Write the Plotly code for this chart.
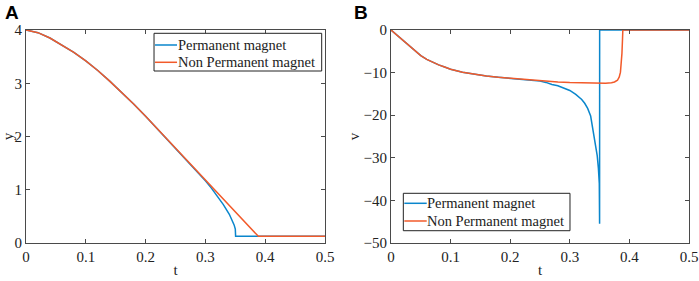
import plotly.graph_objects as go

# ---------------- data ----------------
# Panel A: position y(t)
t_y_np = [0, 0.02, 0.04, 0.06, 0.08, 0.10, 0.12, 0.14, 0.16, 0.18, 0.20, 0.22,
          0.24, 0.26, 0.28, 0.30, 0.32, 0.34, 0.36, 0.3885, 0.5]
y_np = [4.0, 3.95, 3.85, 3.72, 3.58, 3.42, 3.24, 3.04, 2.83, 2.61, 2.38, 2.14,
        1.90, 1.66, 1.42, 1.18, 0.93, 0.69, 0.45, 0.125, 0.125]

t_y_pm = [0, 0.02, 0.04, 0.06, 0.08, 0.10, 0.12, 0.14, 0.16, 0.18, 0.20, 0.22,
          0.24, 0.26, 0.28, 0.29, 0.30, 0.31, 0.32, 0.33, 0.34, 0.345, 0.348,
          0.35, 0.3505, 0.5]
y_pm = [4.0, 3.95, 3.85, 3.72, 3.58, 3.42, 3.24, 3.04, 2.83, 2.61, 2.38, 2.14,
        1.90, 1.66, 1.42, 1.30, 1.17, 1.03, 0.88, 0.72, 0.54, 0.43, 0.34,
        0.26, 0.125, 0.125]

# Panel B: velocity v(t)
t_v_np = [0, 0.01, 0.02, 0.03, 0.04, 0.05, 0.06, 0.07, 0.08, 0.09, 0.10, 0.12,
          0.14, 0.16, 0.18, 0.20, 0.22, 0.24, 0.26, 0.28, 0.30, 0.32, 0.34,
          0.36, 0.37, 0.375, 0.38, 0.383, 0.385, 0.3865, 0.3875, 0.3885,
          0.389, 0.5]
v_np = [0, -1.2, -2.4, -3.6, -4.9, -6.0, -6.9, -7.6, -8.2, -8.7, -9.2, -9.9,
        -10.4, -10.8, -11.1, -11.35, -11.6, -11.8, -12.0, -12.2, -12.35, -12.45,
        -12.5, -12.5, -12.4, -12.2, -11.8, -11.0, -9.9, -8.0, -5.5, -2.0,
        0, 0]

t_v_pm = [0, 0.01, 0.02, 0.03, 0.04, 0.05, 0.06, 0.07, 0.08, 0.09, 0.10, 0.12,
          0.14, 0.16, 0.18, 0.20, 0.22, 0.24, 0.25, 0.26, 0.27, 0.28, 0.29,
          0.30, 0.31, 0.32, 0.325, 0.33, 0.335, 0.34, 0.343, 0.346, 0.348,
          0.3495, 0.35, 0.3501, 0.5]
v_pm = [0, -1.2, -2.4, -3.6, -4.9, -6.0, -6.9, -7.6, -8.2, -8.7, -9.2, -9.9,
        -10.4, -10.8, -11.1, -11.35, -11.6, -11.85, -12.0, -12.3, -12.8, -13.1,
        -13.6, -14.2, -15.1, -16.3, -17.2, -18.4, -20.2, -24.0, -26.5, -29.5,
        -32.5, -36.0, -45.5, 0, 0]

x_ticks = [0, 0.1, 0.2, 0.3, 0.4, 0.5]
x_ticklabels = ["0", "0.1", "0.2", "0.3", "0.4", "0.5"]
yA_ticks = [0, 1, 2, 3, 4]
yB_ticks = [-50, -40, -30, -20, -10, 0]

name_pm = "Permanent magnet"
name_np = "Non Permanent magnet"
c_pm = "#0A86CC"
c_np = "#F25A2A"

# ---------------- figure ----------------
fig = go.Figure()
lw = 1.5
fig.add_trace(go.Scatter(x=t_y_pm, y=y_pm, mode="lines", name=name_pm,
                         line=dict(color=c_pm, width=lw), xaxis="x", yaxis="y",
                         showlegend=False))
fig.add_trace(go.Scatter(x=t_y_np, y=y_np, mode="lines", name=name_np,
                         line=dict(color=c_np, width=lw), xaxis="x", yaxis="y",
                         showlegend=False))
fig.add_trace(go.Scatter(x=t_v_pm, y=v_pm, mode="lines", name=name_pm,
                         line=dict(color=c_pm, width=lw), xaxis="x2", yaxis="y2",
                         showlegend=False))
fig.add_trace(go.Scatter(x=t_v_np, y=v_np, mode="lines", name=name_np,
                         line=dict(color=c_np, width=lw), xaxis="x2", yaxis="y2",
                         showlegend=False))

serif = "Liberation Serif"
axcol = "#4a4a4a"
txtcol = "#222"
common_axis = dict(showline=True, linecolor=axcol, linewidth=1, mirror="ticks",
                   ticks="inside", ticklen=4, tickcolor=axcol, showgrid=False,
                   zeroline=False, automargin=False,
                   tickfont=dict(family=serif, size=15, color=txtcol))
title_font = dict(family=serif, size=15, color=txtcol)

# ---- manual legends (boxes, sample lines, labels) in paper coordinates ----
shapes = []
annotations = []


def add_legend(x0, x1, y0, y1, lx0, lx1, rows, tx):
    shapes.append(dict(type="rect", xref="paper", yref="paper", x0=x0, x1=x1,
                       y0=y0, y1=y1, line=dict(color=txtcol, width=1),
                       fillcolor="white", layer="above"))
    for (ry, col, name) in rows:
        shapes.append(dict(type="line", xref="paper", yref="paper", x0=lx0,
                           x1=lx1, y0=ry, y1=ry, line=dict(color=col, width=lw),
                           layer="above"))
        annotations.append(dict(text=name, xref="paper", yref="paper", x=tx,
                                y=ry, xanchor="left", yanchor="middle",
                                showarrow=False, borderpad=0,
                                font=dict(family=serif, size=14.5, color=txtcol)))


add_legend(0.1931, 0.4460, 0.8075, 0.9845, 0.1946, 0.2278,
           [(0.9296, c_pm, name_pm), (0.8484, c_np, name_np)], 0.2270)
add_legend(0.5691, 0.8205, 0.0577, 0.2333, 0.5706, 0.6044,
           [(0.1864, c_pm, name_pm), (0.1033, c_np, name_np)], 0.6036)

annotations += [
    dict(text="<b>A</b>", xref="paper", yref="paper", x=-0.034, y=1.141,
         xanchor="left", yanchor="top", showarrow=False,
         font=dict(family="Liberation Sans", size=19, color="black")),
    dict(text="<b>B</b>", xref="paper", yref="paper", x=0.492, y=1.141,
         xanchor="left", yanchor="top", showarrow=False,
         font=dict(family="Liberation Sans", size=19, color="black")),
]

fig.update_layout(
    width=699, height=281,
    margin=dict(l=26, r=10, t=30, b=38),
    paper_bgcolor="white", plot_bgcolor="white",
    font=dict(family=serif, size=15, color=txtcol),
    showlegend=False,
    xaxis=dict(domain=[0, 0.451], range=[0, 0.5], tickvals=x_ticks,
               ticktext=x_ticklabels, anchor="y",
               title=dict(text="t", font=title_font, standoff=0),
               **common_axis),
    yaxis=dict(domain=[0, 1], range=[0, 4], tickvals=yA_ticks, anchor="x",
               title=dict(text="y", font=title_font, standoff=0),
               **common_axis),
    xaxis2=dict(domain=[0.5505, 1], range=[0, 0.5], tickvals=x_ticks,
                ticktext=x_ticklabels, anchor="y2",
                title=dict(text="t", font=title_font, standoff=0),
                **common_axis),
    yaxis2=dict(domain=[0, 1], range=[-50, 0], tickvals=yB_ticks, anchor="x2",
                title=dict(text="v", font=title_font, standoff=0),
                **common_axis),
    shapes=shapes,
    annotations=annotations,
)

fig.write_html("out.html",
               config={"displayModeBar": False},
               post_script="document.body.style.margin='0px';"
                           "document.body.style.padding='0px';"
                           "document.body.style.overflow='hidden';")
